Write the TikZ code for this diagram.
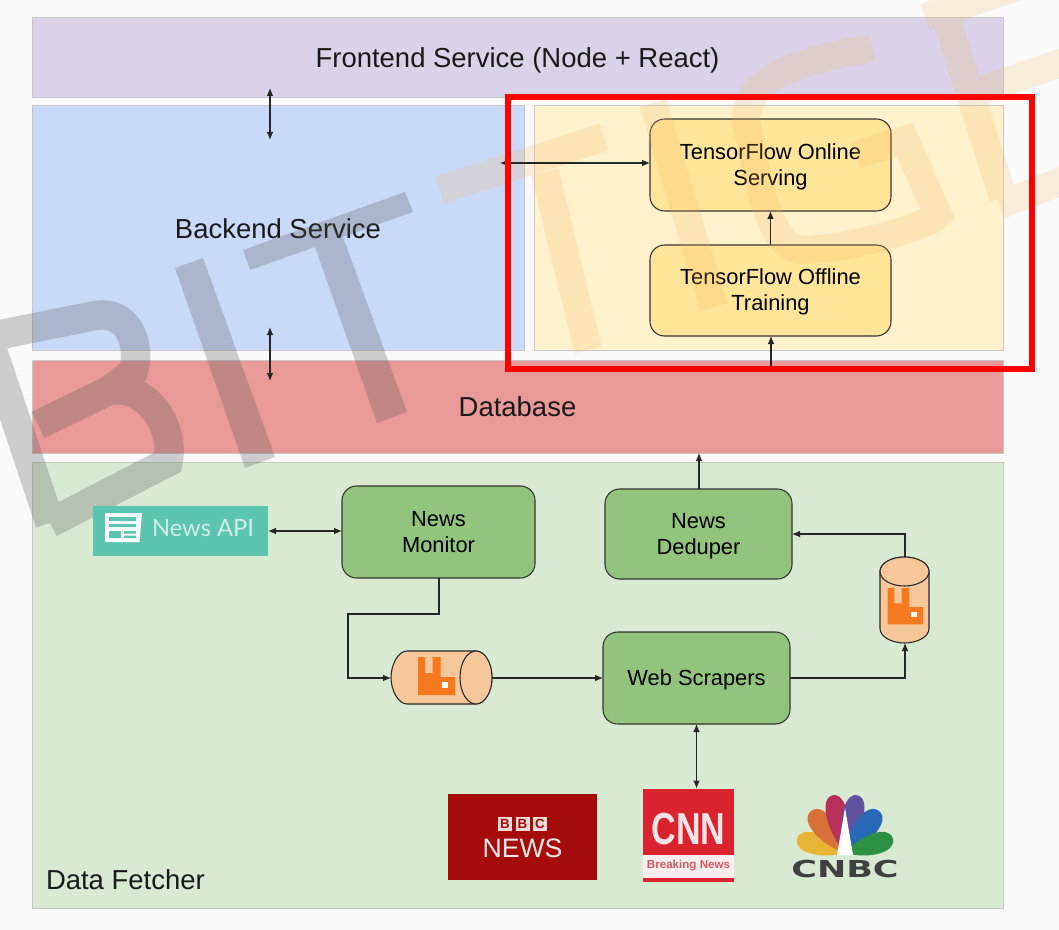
\documentclass[tikz,border=0pt]{standalone}
\usepackage{fontspec}
\setmainfont{Liberation Sans}
\newfontfamily\newsapifont{Lato}
\newfontfamily\widefont{DejaVu Sans}
\usetikzlibrary{arrows.meta}
\definecolor{bgc}{HTML}{FAFAFA}
\definecolor{lav}{HTML}{D9D2E9}
\definecolor{blu}{HTML}{C9DAF8}
\definecolor{yelp}{HTML}{FFF2CC}
\definecolor{yelb}{HTML}{FFE599}
\definecolor{redp}{HTML}{EA9999}
\definecolor{grnp}{HTML}{D9EAD3}
\definecolor{grnb}{HTML}{93C47D}
\definecolor{quef}{HTML}{F7C79C}
\definecolor{rabbit}{HTML}{F6781F}
\definecolor{teal1}{HTML}{5CC5B0}
\definecolor{bbcred}{HTML}{A50B0B}
\definecolor{cnnred}{HTML}{D9232E}
\definecolor{wmg}{RGB}{89,89,89}
\definecolor{wmo}{RGB}{248,180,90}
\definecolor{pkya}{HTML}{E8B436}
\definecolor{pkor}{HTML}{D8703A}
\definecolor{pkma}{HTML}{B8305A}
\definecolor{pkpu}{HTML}{6050A0}
\definecolor{pkbl}{HTML}{2868B8}
\definecolor{pkgr}{HTML}{2E9045}
\tikzset{
  x=0.75pt,y=-0.75pt,
  sz/.style 2 args={minimum width=#1*0.75pt,minimum height=#2*0.75pt},
  panel/.style={rectangle,draw=black!22,line width=0.5pt,inner sep=0pt,outer sep=0pt,text=black!90,text depth=4pt,font=\fontsize{20.6pt}{24pt}\selectfont},
  rbox/.style={rectangle,rounded corners=11pt,draw=black!80,line width=0.8pt,inner sep=0pt,outer sep=0pt,align=center,font=\fontsize{16.4pt}{19.5pt}\selectfont},
  qshape/.style={draw=black!85,fill=quef,line width=0.8pt},
  conn/.style={draw=black!85,line width=0.8pt},
  tip/.style={-{Latex[length=6pt,width=5pt]}},
  tips/.style={{Latex[length=6pt,width=5pt]}-{Latex[length=6pt,width=5pt]}},
  flat/.style={rectangle,inner sep=0pt,outer sep=0pt},
}
\newcommand{\lnst}{\rule[-3.8pt]{0pt}{18.4pt}}
\newcommand{\lnsb}{\rule[-3.8pt]{0pt}{15.4pt}}
\newcommand{\rabbitlogo}[3]{% x, y of top-left, scale
  \begin{scope}[shift={(#1,#2)},scale=#3]
    \fill[rabbit] (0,0) -- (7,0) -- (7,16) -- (14.5,16) -- (14.5,0) -- (22.5,0) -- (22.5,20) -- (37,20) -- (37,38) -- (0,38) -- cycle;
    \fill[white] (24,24.5) rectangle (30,30.5);
  \end{scope}}
\newcommand{\petal}[4]{% angle, length, half width, colour
  \fill[#4,shift={(845,853)},rotate=#1] (0,0) .. controls (#3,-0.45*#2) and (#3,-#2) .. (0,-#2) .. controls (-#3,-#2) and (-#3,-0.45*#2) .. (0,0) -- cycle;}
\begin{document}
\begin{tikzpicture}
\useasboundingbox (0,0) rectangle (1059,930);
\fill[bgc] (0,0) rectangle (1059,930);
% panels
\node[panel,fill=lav,sz={971}{80},text height=20.3pt] (frontend) at (517.5,57) {Frontend Service (Node + React)};
\node[panel,fill=blu,sz={492}{245},text height=21pt] (backend) at (278,227.5) {Backend Service};
\node[panel,fill=yelp,sz={469}{245}] (tfpanel) at (768.5,227.5) {};
\node[panel,fill=redp,sz={971}{93},text height=19.5pt] (database) at (517.5,406.5) {Database};
\node[panel,fill=grnp,sz={971}{446}] (fetcher) at (517.5,685) {};
% tensorflow boxes
\node[rbox,fill=yelb,sz={241}{92}] (online) at (770.5,165) {\lnst TensorFlow Online\\\lnsb Serving};
\node[rbox,fill=yelb,sz={241}{91}] (offline) at (770.5,290.5) {\lnst TensorFlow Offline\\\lnsb Training};
% watermark
\path[draw=wmg,opacity=0.28,line width=22pt,miter limit=4]
  (50,523) -- (-12,337) -- (93,316) .. controls (128,308) and (142,345) .. (133,372) -- (110,390) -- (38,425)
  (110,390) .. controls (150,385) and (175,430) .. (168,462) -- (50,523);
\path[fill=wmg,opacity=0.28]
  (175,268) -- (203,258) -- (275,457) -- (245,468) -- cycle;
\path[fill=wmg,opacity=0.28]
  (243,250) -- (405,192) -- (413,212) -- (343,237) -- (407,412) -- (377,423) -- (315,247) -- (250,270) -- cycle;
\path[draw=wmo,opacity=0.2,line width=21pt]
  (440,190) -- (604,137)
  (545,172) -- (588,350)
  (653,103) -- (714,307)
  (872,48) .. controls (800,60) and (735,80) .. (748,130) .. controls (760,190) and (770,245) .. (800,250) .. controls (850,250) and (930,225) .. (938,215) -- (905,140) -- (856,155)
  (944,12) -- (1003,197)
  (925,17) -- (1070,-30)
  (975,92) -- (1070,60)
  (1000,205) -- (1070,178);
% data fetcher
\node[flat,text=black!90,font=\fontsize{20.6pt}{24pt}\selectfont,anchor=west] (fetcherlabel) at (46,880) {Data Fetcher};
\node[rbox,fill=grnb,sz={193}{92}] (monitor) at (438.5,532) {\lnst News\\\lnsb Monitor};
\node[rbox,fill=grnb,sz={187}{90}] (deduper) at (698.5,534) {\lnst News\\\lnsb Deduper};
\node[rbox,fill=grnb,sz={187}{92}] (scrapers) at (696.5,678) {\lnst Web Scrapers};
% news api
\node[flat,fill=teal1,sz={175}{50}] (newsapi) at (180.5,531) {};
\fill[white] (105,513) -- (142,513) -- (139.5,542) -- (105,542) -- cycle;
\fill[teal1] (109,517) rectangle (136,521) (109,524) rectangle (136,527) (109,531) rectangle (121,538) (124,531) rectangle (136,533.5) (124,535.5) rectangle (136,538);
\node[flat,text=white!70!teal1,font=\newsapifont\fontsize{17.8pt}{20pt}\selectfont,anchor=west] (newsapitext) at (152,528) {News API};
% queues
\node[flat,sz={101}{53}] (queuea) at (441.5,677.5) {};
\draw[qshape] (407,651) .. controls (398,651) and (391,665) .. (391,677.5) .. controls (391,690) and (398,704) .. (407,704) -- (476,704) .. controls (485,704) and (492,690) .. (492,677.5) .. controls (492,665) and (485,651) .. (476,651) -- cycle;
\draw[qshape] (476,677.5) ellipse [x radius=16,y radius=26.5];
\node[flat,sz={49}{86}] (queueb) at (904.5,600) {};
\draw[qshape] (880,571.5) .. controls (880,563) and (892,557) .. (904.5,557) .. controls (917,557) and (929,563) .. (929,571.5) -- (929,628.5) .. controls (929,637) and (917,643) .. (904.5,643) .. controls (892,643) and (880,637) .. (880,628.5) -- cycle;
\draw[qshape] (904.5,571.5) ellipse [x radius=24.5,y radius=14.5];
\rabbitlogo{418}{657}{1}
\rabbitlogo{887.7}{588}{0.96}
% source logos
\node[flat,fill=bbcred,sz={149}{86}] (bbc) at (522.8,837) {};
\foreach \bx/\bl in {498/B,515.5/B,533/C}{
  \fill[white!85!bbcred] (\bx,816.7) rectangle ++(14,14);
  \node[flat,text=bbcred,font=\bfseries\fontsize{10pt}{10pt}\selectfont] at (\bx+7,823.7) {\bl};
}
\node[flat,text=white!90!bbcred,font=\fontsize{20pt}{24pt}\selectfont] (bbcnews) at (522.5,848) {NEWS};
\node[flat,fill=cnnred,sz={91}{93}] (cnn) at (688.5,835) {};
\fill[white!92!cnnred] (643,855) rectangle (734,878);
\node[flat,text=white!88!cnnred,font=\bfseries\fontsize{30pt}{30pt}\selectfont] (cnnlogo) at (688.5,829.5) {\scalebox{0.85}[1.12]{CNN}};
\node[flat,text=cnnred!70!white!90!black,font=\bfseries\fontsize{8.7pt}{10pt}\selectfont] (cnnbreak) at (688.5,866) {Breaking News};
% cnbc peacock
\petal{73}{50}{14}{pkya}
\petal{39}{54}{15}{pkor}
\petal{12}{59}{14}{pkma}
\petal{-12}{59}{14}{pkpu}
\petal{-39}{54}{15}{pkbl}
\petal{-73}{50}{14}{pkgr}
\fill[white] (845,808) -- (853,855) -- (837,855) -- cycle;
\node[flat,text=black!75,font=\widefont\bfseries\fontsize{17.5pt}{18pt}\selectfont] (cnbc) at (845,868.5) {\scalebox{1.5}[1]{CNBC}};
% connectors
\coordinate (fbA) at (270,88);
\coordinate (fbB) at (270,140);
\coordinate (bdA) at (270,327);
\coordinate (bdB) at (270,381);
\coordinate (beS) at (500,163);
\coordinate (dbTop) at (771,368);
\coordinate (ddTop) at (699,453);
\coordinate (m1) at (439,614);
\coordinate (m2) at (348,614);
\coordinate (m3) at (348,678);
\coordinate (s1) at (905,678);
\coordinate (q1) at (905,534);
\draw[conn,tips] (fbA) -- (fbB);
\draw[conn,tips] (bdA) -- (bdB);
\draw[conn,tips] (beS) -- (online.west |- beS);
\draw[conn,tip] (offline.north) -- (online.south);
\draw[conn,tip] (dbTop) -- (offline.south -| dbTop);
\draw[conn,tip] (deduper.north -| ddTop) -- (ddTop);
\draw[conn,tips] (newsapi.east) -- (monitor.west |- newsapi.east);
\draw[conn,tip] (monitor.south -| m1) -- (m1) -- (m2) -- (m3) -- (queuea.west |- m3);
\draw[conn,tip] (queuea.east |- m3) -- (scrapers.west |- m3);
\draw[conn,tip] (scrapers.east |- s1) -- (s1) -- (queueb.south -| s1);
\draw[conn,tip] (queueb.north -| q1) -- (q1) -- (deduper.east |- q1);
\draw[conn,tips] (scrapers.south) -- (scrapers.south |- cnn.north);
% highlight frame
\node[rectangle,draw=red,line width=3.8pt,inner sep=0pt,outer sep=0pt,sz={524}{272}] (frame) at (770,233) {};
\end{tikzpicture}
\end{document}
